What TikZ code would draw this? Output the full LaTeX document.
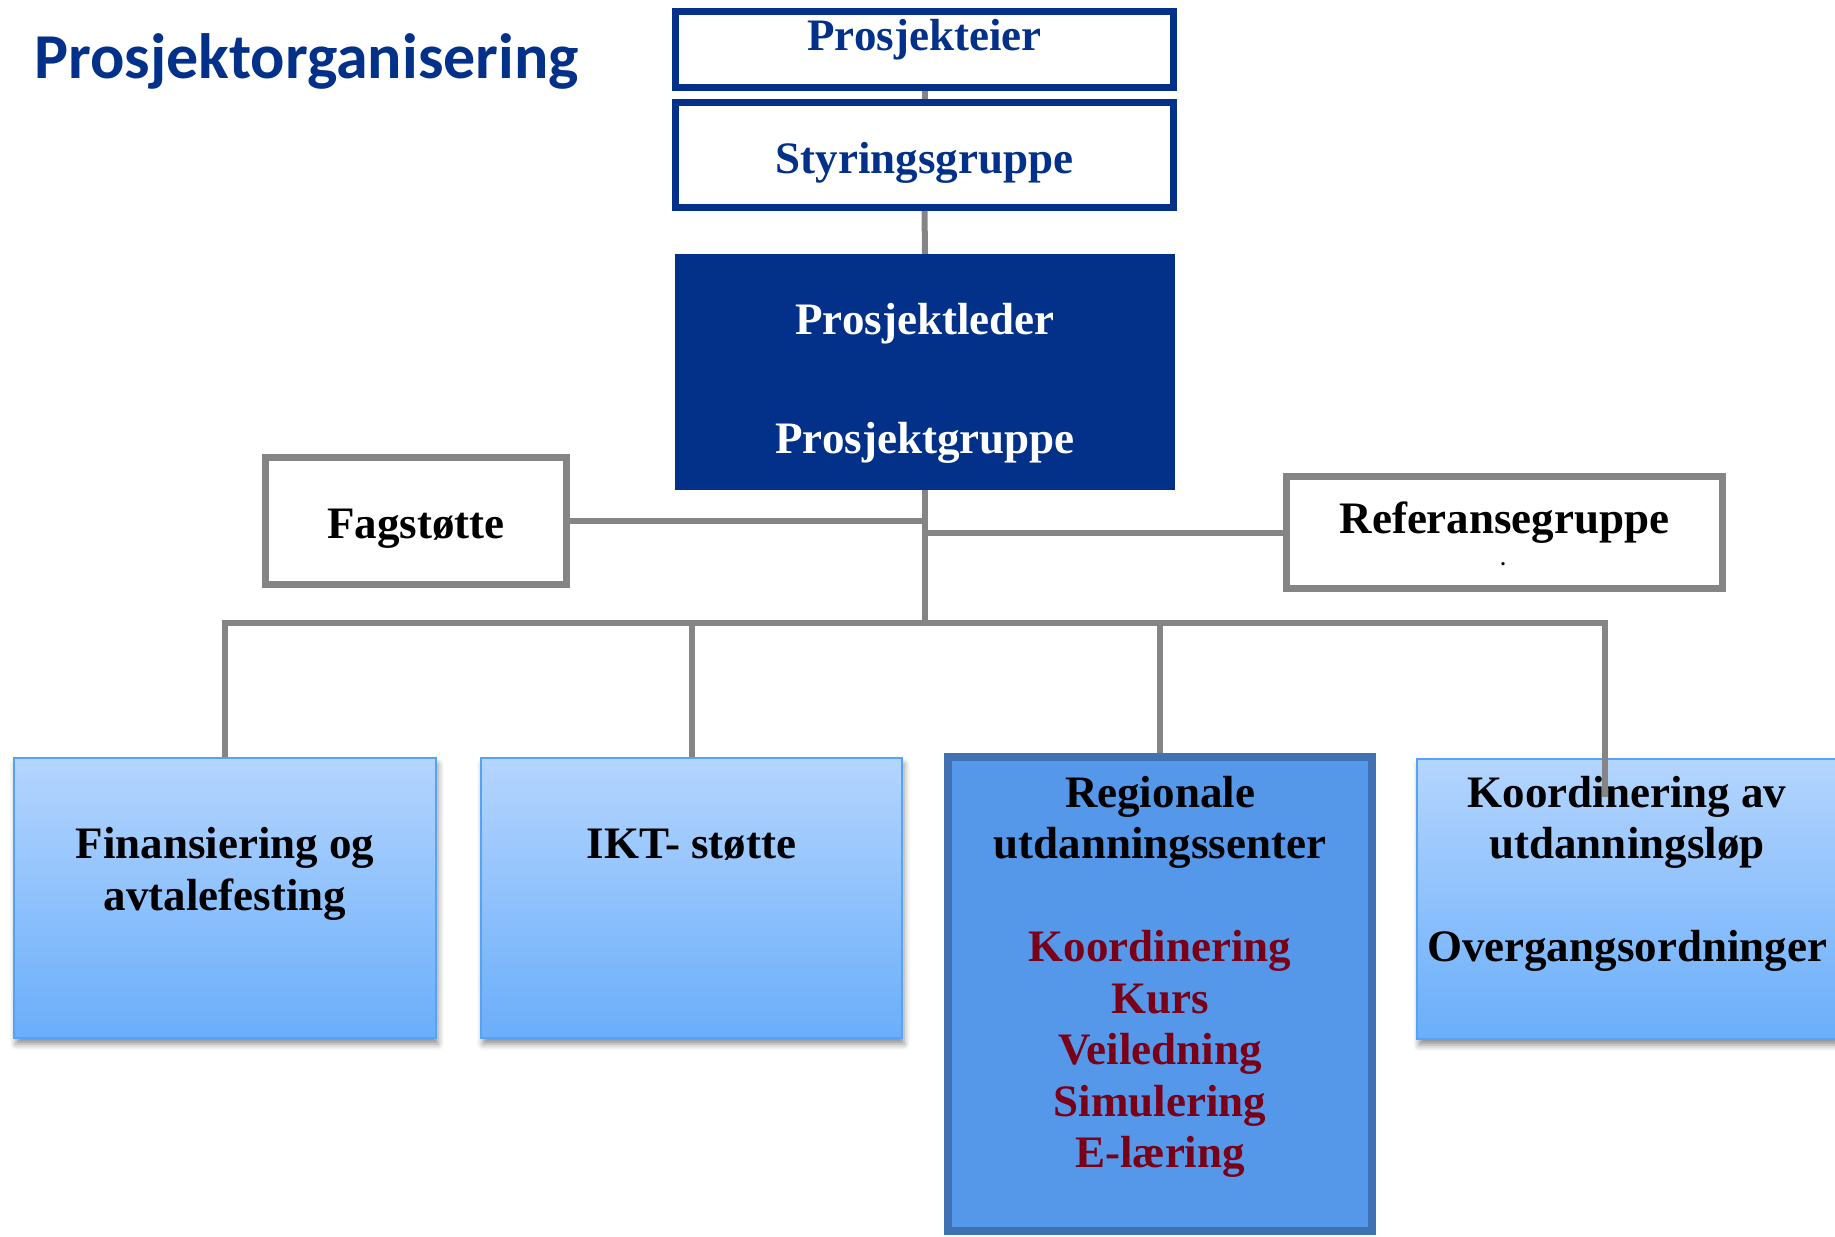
\documentclass[tikz,border=0pt]{standalone}
\usepackage{fontspec}
\setmainfont{Liberation Serif}
\newfontfamily\titlefont{Carlito}
\usetikzlibrary{shadows.blur}
\definecolor{dblue}{HTML}{03318A}
\definecolor{lgray}{HTML}{858585}
\definecolor{gtop}{HTML}{B4D5FE}
\definecolor{gbot}{HTML}{6AAEFA}
\definecolor{gborder}{HTML}{55A3F8}
\definecolor{rfill}{HTML}{5598EA}
\definecolor{rborder}{HTML}{3F71B3}
\definecolor{dred}{HTML}{7A0018}
\tikzset{
  txt/.style={font=\bfseries\fontsize{45}{51.5}\selectfont, align=center, inner sep=0pt},
  topbox/.style={draw=dblue, line width=7pt, fill=white, inner sep=0pt},
  darkbox/.style={fill=dblue, inner sep=0pt},
  graybox/.style={draw=lgray, line width=7pt, fill=white, inner sep=0pt},
  lightbox/.style={draw=gborder, line width=2pt, top color=gtop, bottom color=gbot, inner sep=0pt,
    blur shadow={shadow xshift=2pt, shadow yshift=-6pt, shadow blur radius=6pt, shadow opacity=45}},
  regbox/.style={draw=rborder, line width=8pt, fill=rfill, inner sep=0pt},
  conn/.style={draw=lgray, line width=6pt},
}
\begin{document}
\begin{tikzpicture}[x=1pt, y=-1pt]
\useasboundingbox (0,0) rectangle (1835,1236);
% title
\node[anchor=base west, inner sep=0pt, text=dblue, font=\titlefont\bfseries\fontsize{64}{70}\selectfont] (title) at (34,79) {Prosjektorganisering};
% top boxes
\node[topbox, minimum width=498pt, minimum height=76pt] (peier) at (924.5,49.5) {};
\node[txt, text=dblue] (peierT) at (924.5,39.5) {Prosjekteier};
\node[topbox, minimum width=498pt, minimum height=105pt] (styr) at (924.5,155) {};
\node[txt, text=dblue] (styrT) at (924.5,162.5) {Styringsgruppe};
\node[darkbox, minimum width=500pt, minimum height=126pt] (pleder) at (925,317) {};
\node[txt, text=white] (plederT) at (925,323.5) {Prosjektleder};
\node[darkbox, minimum width=500pt, minimum height=110pt] (pgruppe) at (925,435) {};
\node[txt, text=white] (pgruppeT) at (925,442.5) {Prosjektgruppe};
% side boxes
\node[graybox, minimum width=301pt, minimum height=127pt] (fag) at (416,521) {};
\node[txt] (fagT) at (416,528.5) {Fagstøtte};
\node[graybox, minimum width=436pt, minimum height=112pt] (ref) at (1504.5,532.5) {};
\node[txt] (refT) at (1504.5,522.5) {Referansegruppe};
\node[inner sep=0pt, font=\bfseries\fontsize{20}{20}\selectfont] (refdot) at (1503,564) {.};
% bottom boxes
\node[lightbox, minimum width=422pt, minimum height=280pt] (b1) at (225,898) {};
\node[txt] (b1T) at (225,874) {Finansiering og\\avtalefesting};
\node[lightbox, minimum width=421pt, minimum height=280pt] (b2) at (691.5,898) {};
\node[txt] (b2T) at (691.5,845) {IKT- støtte};
\node[regbox, minimum width=424pt, minimum height=474pt] (b3) at (1160,994) {};
\node[txt] (b3T) at (1160,977) {Regionale\\utdanningssenter\\[51.5pt]\textcolor{dred}{Koordinering}\\\textcolor{dred}{Kurs}\\\textcolor{dred}{Veiledning}\\\textcolor{dred}{Simulering}\\\textcolor{dred}{E-læring}};
\node[lightbox, minimum width=420pt, minimum height=280pt] (b4) at (1627,899) {};
\node[txt] (b4T) at (1627,874) {Koordinering av\\utdanningsløp\\[51.5pt]Overgangsordninger};
% connectors
\coordinate (bus) at (925,623);
\coordinate (b4drop) at (1605,623);
\coordinate (b4end) at (1605,797);
\draw[conn] (peier.south) -- (styr.north);
\draw[conn] (styr.south) -- (pleder.north);
\draw[conn] (pgruppe.south) -- (pgruppe.south |- bus);
\draw[conn] (fag.east) -- (fag.east -| pgruppe.south);
\draw[conn] (ref.west) -- (ref.west -| pgruppe.south);
\draw[conn] (b1.north) |- (b4drop) -- (b4end);
\draw[conn] (b2.north) -- (b2.north |- bus);
\draw[conn] (b3.north) -- (b3.north |- bus);
\end{tikzpicture}
\end{document}
